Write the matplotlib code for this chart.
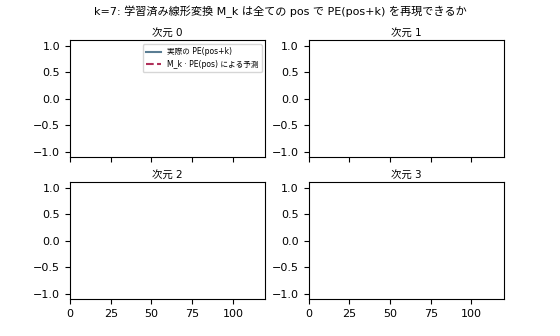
import numpy as np
import matplotlib
matplotlib.use("Agg")
import matplotlib.pyplot as plt

plt.rcParams['font.family'] = ['DejaVu Sans', 'Noto Sans CJK JP']

# k=7, first frame of the animation: lines not drawn yet
k = 7
dims = [0, 1, 2, 3]
pos = []          # positions plotted so far
actual = {d: [] for d in dims}     # PE(pos+k)
predicted = {d: [] for d in dims}  # M_k . PE(pos)

fig, axes = plt.subplots(2, 2, figsize=(5.6, 3.36), dpi=100, sharex=True)
for d, ax in zip(dims, axes.flat):
    ax.plot(pos, actual[d], color='#5a7d93', lw=1.5, label='実際の PE(pos+k)')
    ax.plot(pos, predicted[d], color='#b0305a', lw=1.5, ls='--',
            label='M_k · PE(pos) による予測')
    ax.set_xlim(0, 120)
    ax.set_ylim(-1.1, 1.1)
    ax.set_title(f'次元 {d}', fontsize=7.5, pad=3)
    ax.tick_params(labelsize=8)
    if d == 0:
        ax.legend(fontsize=5.5, loc='upper right')

fig.suptitle(f'k={k}: 学習済み線形変換 M_k は全ての pos で PE(pos+k) を再現できるか',
             fontsize=8, y=0.985)
plt.subplots_adjust(left=0.125, right=0.9, top=0.88, bottom=0.11, hspace=0.22, wspace=0.22)
plt.savefig('out.png')
